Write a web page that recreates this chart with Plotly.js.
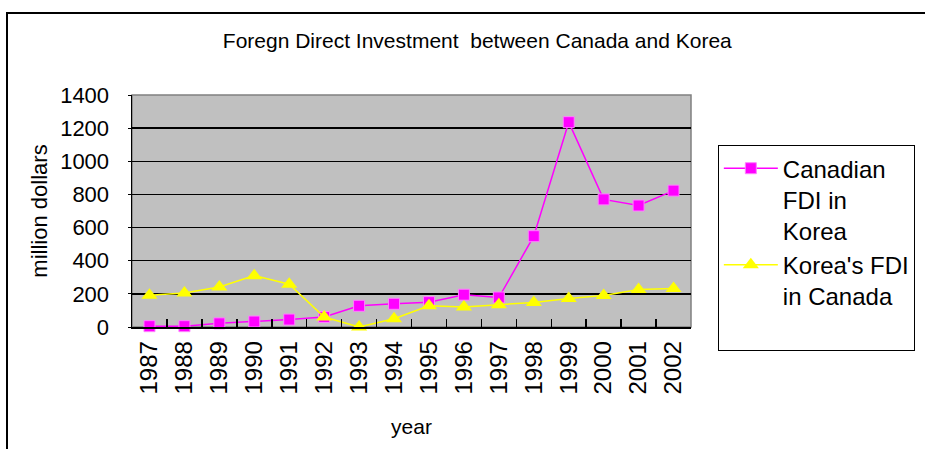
<!DOCTYPE html>
<html>
<head>
<meta charset="utf-8">
<script src="https://cdn.plot.ly/plotly-3.0.1.min.js"></script>
<style>
  html, body { margin: 0; padding: 0; background: #fff; }
  #wrap { position: relative; width: 925px; height: 449px; overflow: hidden; }
  #chart { position: absolute; left: 0; top: 0; width: 925px; height: 449px; }
  #frame { position: absolute; left: 6px; top: 12px; width: 940px; height: 460px;
           border-left: 2px solid #000; border-top: 2px solid #000; pointer-events: none; }
</style>
</head>
<body>
<div id="wrap">
  <div id="chart"></div>
  <div id="frame"></div>
</div>
<script>
const years = ['1987','1988','1989','1990','1991','1992','1993','1994','1995','1996','1997','1998','1999','2000','2001','2002'];
const canadianFDIinKorea = [5, 5, 22, 33, 45, 60, 128, 140, 150, 195, 178, 548, 1236, 770, 733, 823];
const koreasFDIinCanada = [192, 205, 242, 310, 258, 60, 0, 50, 128, 120, 135, 148, 172, 190, 226, 232];
const seriesNames = ['Canadian<br>FDI in<br>Korea', "Korea's FDI<br>in Canada<br> "];

const FONT = 'Arial, "Liberation Sans", sans-serif';

const traces = [
  {
    x: years, y: canadianFDIinKorea, name: seriesNames[0], type: 'scatter', mode: 'lines+markers',
    line: { color: '#ff00ff', width: 1.5 },
    marker: { symbol: 'square', size: 11, color: '#ff00ff', line: { color: '#ff80ff', width: 1 } },
    cliponaxis: false
  },
  {
    x: years, y: koreasFDIinCanada, name: seriesNames[1], type: 'scatter', mode: 'lines+markers',
    line: { color: '#ffff00', width: 1.5 },
    marker: { symbol: 'triangle-up', size: 14, color: '#ffff00', line: { width: 0 } },
    cliponaxis: false
  }
];

const layout = {
  width: 925, height: 449,
  margin: { l: 132, r: 234, t: 95, b: 122, autoexpand: false },
  paper_bgcolor: '#ffffff',
  plot_bgcolor: '#c0c0c0',
  font: { family: FONT, color: '#000' },
  title: { text: 'Foregn Direct Investment  between Canada and Korea', font: { size: 21, family: FONT }, x: 0.516, xanchor: 'center', y: 0.91, yanchor: 'middle' },
  showlegend: true,
  legend: {
    x: 1.048, xanchor: 'left', y: 0.784, yanchor: 'top',
    bgcolor: '#ffffff', bordercolor: '#000', borderwidth: 1,
    font: { size: 24, family: FONT }, valign: 'top',
    itemwidth: 54
  },
  xaxis: {
    type: 'category', range: [-0.5, 15.5], autorange: false,
    tickson: 'boundaries', ticks: 'inside', ticklen: 8, tickcolor: '#000', tickwidth: 1.5,
    showline: true, linecolor: '#000', linewidth: 1.5,
    showgrid: false, tickangle: -90,
    tickfont: { size: 24, family: FONT },
    ticklabelstandoff: 3,
    title: { text: 'year', font: { size: 21, family: FONT }, standoff: 26 }
  },
  yaxis: {
    range: [0, 1400], autorange: false, dtick: 200, tick0: 0,
    ticks: 'outside', ticklen: 3, tickcolor: '#000',
    showline: true, linecolor: '#000', linewidth: 1.5,
    showgrid: true, gridcolor: '#000', gridwidth: 1.5,
    zeroline: false,
    tickfont: { size: 22, family: FONT },
    ticklabelstandoff: 14,
    title: { text: 'million dollars', font: { size: 22, family: FONT }, standoff: 6 }
  },
  shapes: [
    { type: 'rect', xref: 'paper', yref: 'paper', x0: 0, x1: 1, y0: 0, y1: 1,
      line: { color: '#808080', width: 1.5 }, layer: 'below' }
  ]
};

Plotly.newPlot('chart', traces, layout, { displayModeBar: false, staticPlot: true });
</script>
</body>
</html>
